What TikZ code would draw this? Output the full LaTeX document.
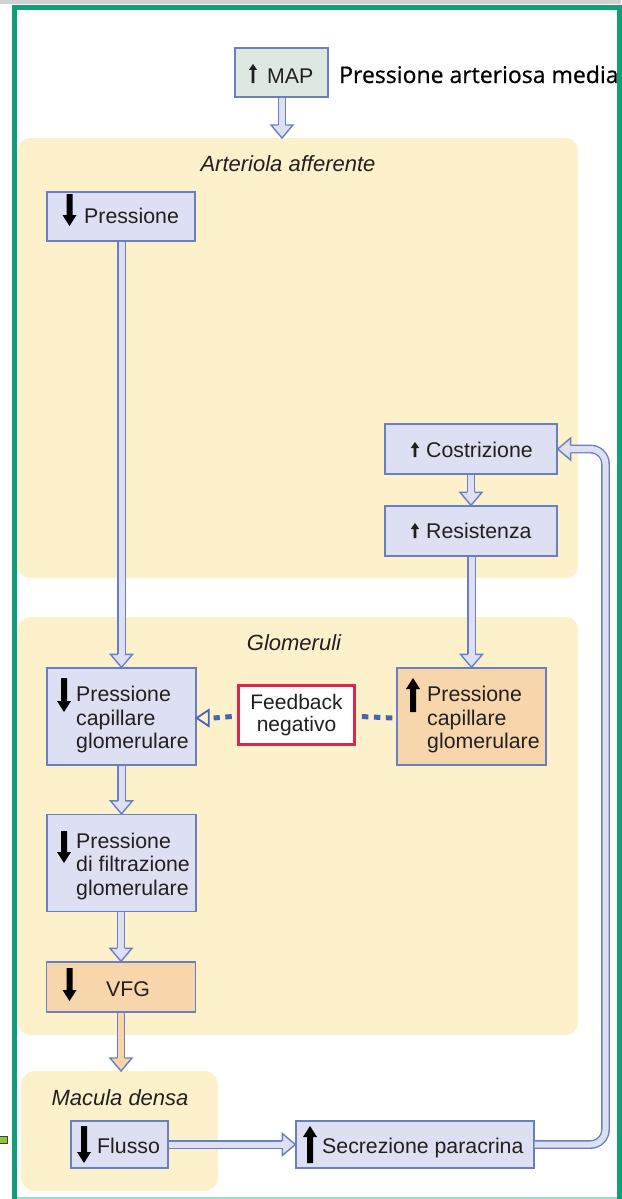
\documentclass[tikz,border=0pt]{standalone}
\usepackage{fontspec}
\setmainfont{Liberation Sans}
\newfontfamily\osans[FakeBold=0.6]{Open Sans}
\usetikzlibrary{calc}
\definecolor{frameg}{HTML}{129E77}
\definecolor{framel}{HTML}{9ADFC9}
\definecolor{yel}{HTML}{FDF1CC}
\definecolor{bord}{HTML}{6A7EC2}
\definecolor{lav}{HTML}{DCE0F2}
\definecolor{orf}{HTML}{F8D6AC}
\definecolor{mapf}{HTML}{DCE8E0}
\definecolor{redb}{HTML}{D8284E}
\definecolor{dotc}{HTML}{4A64B5}
\definecolor{txtc}{HTML}{231F20}
\definecolor{markg}{HTML}{8CC63F}

\tikzset{
  box/.style={draw=bord, line width=1.3pt, fill=lav, rectangle, inner sep=0pt},
  txt/.style={font=\fontsize{21.3}{23.5}\selectfont, text=txtc, inner sep=0pt, align=left, anchor=west},
  ttl/.style={font=\fontsize{22}{24}\selectfont\itshape, text=txtc, inner sep=0pt, anchor=base},
  hshaft/.style={line width=1.4pt, draw=bord, double distance=6pt},
  hhead/.style={line width=1.4pt, draw=bord, line join=miter},
  dotline/.style={draw=dotc, line width=5pt, dash pattern=on 6.5pt off 5.5pt},
}

% hollow arrow pointing down: #1 fill, #2 start anchor, #3 tip
\newcommand{\hollowdown}[3]{%
  \draw[hshaft, double=#1] (#3|-#2) -- ($(#3)+(0,13pt)$);
  \filldraw[hhead, fill=#1] ($(#3)+(-3.7pt,13pt)$) -- ($(#3)+(-11pt,13pt)$) -- (#3) -- ($(#3)+(11pt,13pt)$) -- ($(#3)+(3.7pt,13pt)$);
}
% hollow arrow pointing right
\newcommand{\hollowright}[3]{%
  \draw[hshaft, double=#1] (#2|-#3) -- ($(#3)+(-13pt,0)$);
  \filldraw[hhead, fill=#1] ($(#3)+(-13pt,3.7pt)$) -- ($(#3)+(-13pt,11pt)$) -- (#3) -- ($(#3)+(-13pt,-11pt)$) -- ($(#3)+(-13pt,-3.7pt)$);
}
% icons
\newcommand{\icodown}[3]{\fill[black] (#1-3,#2) -- (#1+3,#2) -- (#1+3,#3-11) -- (#1+7,#3-11) -- (#1,#3) -- (#1-7,#3-11) -- (#1-3,#3-11) -- cycle;}
\newcommand{\icoup}[3]{\fill[black] (#1-3,#3) -- (#1+3,#3) -- (#1+3,#2+11) -- (#1+7,#2+11) -- (#1,#2) -- (#1-7,#2+11) -- (#1-3,#2+11) -- cycle;}
\newcommand{\icothin}[3]{\fill[txtc] (#1-1.3,#3) -- (#1+1.3,#3) -- (#1+1.3,#2+6) -- (#1+4.2,#2+6) -- (#1,#2) -- (#1-4.2,#2+6) -- (#1-1.3,#2+6) -- cycle;}

\begin{document}
\begin{tikzpicture}[x=1pt,y=-1pt]
\useasboundingbox (0,0) rectangle (621,1199);
\fill[white] (0,0) rectangle (621,1199);
\fill[black!18] (0,0) rectangle (621,4);
% frame
\draw[frameg, line width=5pt] (14.5,1199) -- (14.5,8) -- (619,8) -- (619,1199);
\draw[framel, line width=2pt] (17,1198) -- (617,1198);
\filldraw[fill=markg, draw=black!75, line width=1pt] (-2,1136) rectangle (7,1143);

% regions
\fill[yel, rounded corners=12pt] (18,138) rectangle (578,578);
\fill[yel, rounded corners=12pt] (18,617) rectangle (578,1035);
\fill[yel, rounded corners=14pt] (21,1071) rectangle (218,1191);
\coordinate (r1top) at (282,138);
\coordinate (r3top) at (121,1071);
\coordinate (lx) at (605.5,0);

% titles
\node[ttl] (l1) at (288,171) {Arteriola afferente};
\node[ttl] (l2) at (294,650) {Glomeruli};
\node[ttl] (l3) at (120,1105) {Macula densa};

% boxes
\node[box, fill=mapf, minimum width=93pt, minimum height=49pt] (map) at (281.5,72.5) {};
\node[box, minimum width=148pt, minimum height=49pt] (pre) at (121,216.5) {};
\node[box, minimum width=172pt, minimum height=50pt] (cos) at (471,449) {};
\node[box, minimum width=172pt, minimum height=50pt] (res) at (471,531) {};
\node[box, minimum width=149pt, minimum height=97pt] (gl) at (121.5,716.5) {};
\node[box, fill=orf, minimum width=149pt, minimum height=97pt] (gr) at (471.5,716.5) {};
\node[draw=redb, line width=2.5pt, fill=white, minimum width=116pt, minimum height=59pt, inner sep=0pt, align=center, font=\fontsize{21}{21.5}\selectfont, text=txtc] (fb) at (296.5,715) {Feedback\\negativo};
\node[box, minimum width=149pt, minimum height=97pt] (fil) at (121.5,863) {};
\node[box, fill=orf, minimum width=149pt, minimum height=50pt] (vfg) at (121,987) {};
\node[box, minimum width=97pt, minimum height=47pt] (flu) at (119.5,1144.5) {};
\node[box, minimum width=238pt, minimum height=47pt] (sec) at (415,1144.5) {};

% texts
\node[txt, anchor=base west] (tmap) at (267,83) {MAP};
\node[txt, anchor=base west, font=\osans\fontsize{23}{26}\selectfont, text=black] (tpam) at (339,83) {Pressione arteriosa media};
\node[txt, anchor=base west] (tpre) at (84,223) {Pressione};
\node[txt, anchor=base west] (tcos) at (426,457) {Costrizione};
\node[txt, anchor=base west] (tres) at (426,538) {Resistenza};
\node[txt] (tgl) at (76,719.5) {Pressione\\capillare\\glomerulare};
\node[txt] (tgr) at (427,719.5) {Pressione\\capillare\\glomerulare};
\node[txt] (tfil) at (76,866) {Pressione\\di filtrazione\\glomerulare};
\node[txt, anchor=base] (tvfg) at (128,996) {VFG};
\node[txt, anchor=base west] (tflu) at (97,1153) {Flusso};
\node[txt, anchor=base west] (tsec) at (322,1153) {Secrezione paracrina};

% icons
\icothin{253}{64}{83}
\icothin{415}{442}{457}
\icothin{415}{523}{538}
\icodown{69.5}{194}{226}
\icodown{64}{678}{712}
\icoup{413}{678}{712}
\icodown{64}{831}{863}
\icodown{69.5}{968}{1001}
\icodown{84}{1126}{1163}
\icoup{310}{1126}{1163}

% hollow arrows
\hollowdown{lav}{map.south}{r1top}
\hollowdown{lav}{pre.south}{gl.north}
\hollowdown{lav}{cos.south}{res.north}
\hollowdown{lav}{res.south}{gr.north}
\hollowdown{lav}{gl.south}{fil.north}
\hollowdown{lav}{fil.south}{vfg.north}
\hollowdown{orf}{vfg.south}{r3top}
\hollowright{lav}{flu.east}{sec.west}

% feedback loop
\draw[hshaft, double=lav, rounded corners=15pt] (sec.east) -- (sec.east -| lx) -- (cos.east -| lx) -- ($(cos.east)+(13pt,0)$);
\filldraw[hhead, fill=lav] ($(cos.east)+(13pt,3.7pt)$) -- ($(cos.east)+(13pt,11pt)$) -- (cos.east) -- ($(cos.east)+(13pt,-11pt)$) -- ($(cos.east)+(13pt,-3.7pt)$);

% dotted feedback connectors
\draw[dotline] ($(fb.west)+(-5.5pt,-1.5pt)$) -- ($(gl.east)+(17pt,-1.5pt)$);
\draw[draw=dotc, fill=yel, line width=1.8pt, line join=miter] ($(gl.east)+(12pt,6.5pt)$) -- ($(gl.east)+(0,-1.5pt)$) -- ($(gl.east)+(12pt,-9.5pt)$) -- cycle;
\draw[dotline] ($(gr.west)+(-4pt,-1.5pt)$) -- ($(fb.east)+(5pt,-1.5pt)$);
\end{tikzpicture}
\end{document}
